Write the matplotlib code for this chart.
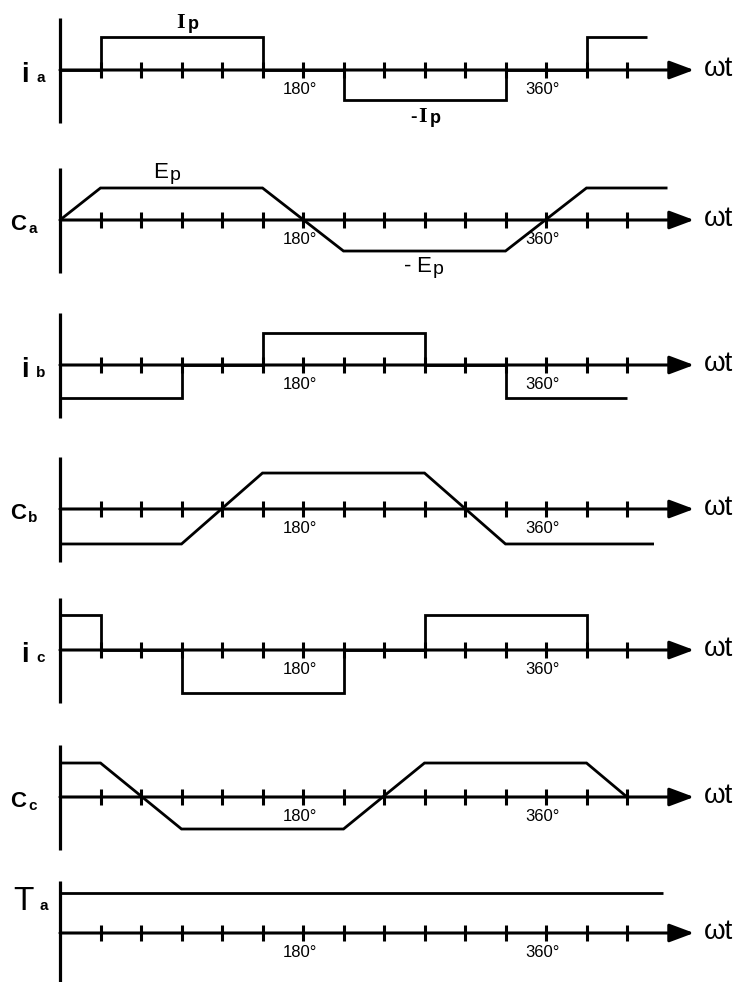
import matplotlib
matplotlib.use('Agg')
import matplotlib.pyplot as plt

plt.rcParams['font.family'] = ['Liberation Sans', 'DejaVu Sans']

# ---------------- data (angles in degrees, values in per-unit amplitude) ----------------
tick_angles = list(range(30, 421, 30))
deg_labels = [180, 360]

ia_t = [0, 30, 30, 150, 150, 210, 210, 330, 330, 390, 390, 435]
ia_v = [0, 0, 1.0, 1.0, 0, 0, -0.91, -0.91, 0, 0, 1.0, 1.0]

ca_t = [0, 30, 150, 210, 330, 390, 450]
ca_v = [0, 0.97, 0.97, -0.94, -0.94, 0.97, 0.97]

ib_t = [0, 90, 90, 150, 150, 270, 270, 330, 330, 420]
ib_v = [-1.0, -1.0, 0, 0, 0.97, 0.97, 0, 0, -1.0, -1.0]

cb_t = [0, 90, 150, 270, 330, 440]
cb_v = [-1.06, -1.06, 1.09, 1.09, -1.06, -1.06]

ic_t = [0, 30, 30, 90, 90, 210, 210, 270, 270, 390, 390]
ic_v = [1.06, 1.06, 0, 0, -1.3, -1.3, 0, 0, 1.06, 1.06, 0]

cc_t = [0, 30, 90, 210, 270, 390, 420]
cc_v = [1.03, 1.03, -0.97, -0.97, 1.03, 1.03, 0]

ta_t = [0, 447]
ta_v = [1.21, 1.21]

names = ['i', 'C', 'i', 'C', 'i', 'C', 'T']
subs = ['a', 'a', 'b', 'b', 'c', 'c', 'a']

# ---------------- layout ----------------
W, H = 747, 982
UNIT = 33.0      # px per amplitude unit
X0 = 60.0        # px of 0 degrees
DPD = 1.35       # px per degree
HALF = 70        # half height of each panel (px)
zeros_px = [70, 220, 365, 509, 650, 797, 933]


def deg(px):
    return (px - X0) / DPD


def u(px):
    return px / UNIT


fig = plt.figure(figsize=(W / 100, H / 100), dpi=100)
fig.patch.set_facecolor('white')

series = [(ia_t, ia_v), (ca_t, ca_v), (ib_t, ib_v), (cb_t, cb_v),
          (ic_t, ic_v), (cc_t, cc_v), (ta_t, ta_v)]

axes = []
for i, (zero, (t, v)) in enumerate(zip(zeros_px, series)):
    ax = fig.add_axes([0, 1 - (zero + HALF) / H, 1, 2 * HALF / H])
    ax.set_xlim(deg(0), deg(W))
    ax.set_ylim(-u(HALF), u(HALF))
    ax.axis('off')
    ax.patch.set_alpha(0)
    axes.append(ax)

    # vertical axis
    ax.plot([0, 0], [u(52), u(-53)], color='black', lw=2.3, solid_capstyle='butt')
    # horizontal axis with arrow
    ax.annotate('', xy=(deg(694), 0), xytext=(0, 0),
                arrowprops=dict(arrowstyle='-|>,head_length=0.75,head_width=0.28',
                                lw=2.2, color='black', shrinkA=0, shrinkB=0,
                                mutation_scale=20))
    # ticks
    ax.vlines(tick_angles, u(-8), u(8), color='black', lw=2.2)
    # signal
    ax.plot(t, v, color='black', lw=2.0, solid_joinstyle='miter', solid_capstyle='butt')
    # omega t
    ax.text(deg(704), u(1), 'ωt', fontsize=20, ha='left', va='center')
    # degree labels
    for d in deg_labels:
        ax.text(d - 2.5, u(-12), f'{d}°', fontsize=12, ha='center', va='top')

    # panel name
    nm, sb = names[i], subs[i]
    if nm == 'i':
        ax.text(deg(21), u(-12), nm, fontsize=20, fontweight='bold', ha='left', va='baseline')
        ax.text(deg(36), u(-12), sb, fontsize=11, fontweight='bold', ha='left', va='baseline')
    elif nm == 'C':
        ax.text(deg(10), u(-10), nm, fontsize=16, fontweight='bold', ha='left', va='baseline')
        ax.text(deg(28), u(-13), sb, fontsize=11, fontweight='bold', ha='left', va='baseline')
    else:
        ax.text(deg(13), u(23), nm, fontsize=24, ha='left', va='baseline')
        ax.text(deg(39), u(23), sb, fontsize=11, fontweight='bold', ha='left', va='baseline')

# amplitude annotations
a0 = axes[0]
a0.text(deg(176), u(42), 'I', fontsize=16, fontweight='bold', family='Liberation Serif',
        ha='left', va='baseline')
a0.text(deg(188), u(41), 'p', fontsize=13, fontweight='bold', ha='left', va='baseline')
a0.text(deg(410), u(-52), '-', fontsize=14, fontweight='bold', ha='left', va='baseline')
a0.text(deg(418), u(-52), 'I', fontsize=16, fontweight='bold', family='Liberation Serif',
        ha='left', va='baseline')
a0.text(deg(430), u(-53), 'p', fontsize=13, fontweight='bold', ha='left', va='baseline')

a1 = axes[1]
a1.text(deg(153), u(42), 'E', fontsize=16, ha='left', va='baseline')
a1.text(deg(170), u(40), 'p', fontsize=14, ha='left', va='baseline')
a1.text(deg(404), u(-52), '-', fontsize=16, ha='left', va='baseline')
a1.text(deg(416), u(-52), 'E', fontsize=16, ha='left', va='baseline')
a1.text(deg(433), u(-54), 'p', fontsize=14, ha='left', va='baseline')

fig.savefig('out.png', dpi=100, facecolor='white')
